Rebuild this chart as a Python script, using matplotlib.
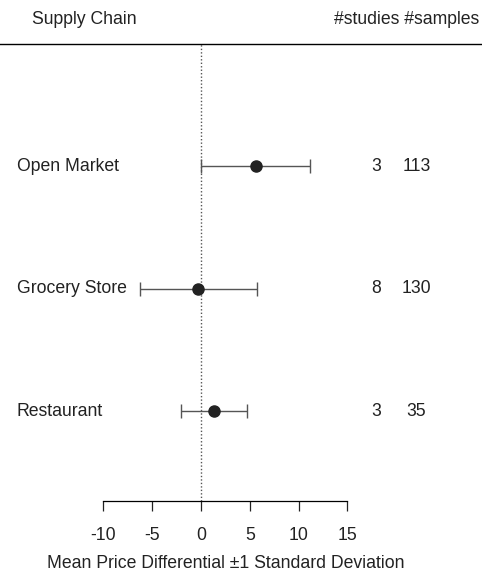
import matplotlib
matplotlib.use("Agg")
import matplotlib.pyplot as plt

# Summary of price differentials by supply chain
chains = ["Open Market", "Grocery Store", "Restaurant"]
means = [5.6, -0.3, 1.35]
sds = [5.6, 6.0, 3.35]
n_studies = [3, 8, 3]
n_samples = [113, 130, 35]
xticks = [-10, -5, 0, 5, 10, 15]

plt.rcParams["font.family"] = ["Liberation Sans", "DejaVu Sans"]
FS = 12.7

W, H = 482, 573
fig = plt.figure(figsize=(W / 100, H / 100), dpi=100)

# Plot axes spans the full width; top spine forms the header rule
x0_pix, px_per_unit = 201.0, 9.76
xmin = (0 - x0_pix) / px_per_unit
xmax = (W - x0_pix) / px_per_unit
ax = fig.add_axes([0, (H - 501) / H, 1, (501 - 44) / H])
ax.set_xlim(xmin, xmax)
ax.set_ylim(0.265, 4.0)

for side in ("left", "right"):
    ax.spines[side].set_visible(False)
ax.spines["top"].set_linewidth(1.0)
ax.spines["bottom"].set_bounds(xticks[0], xticks[-1])
ax.spines["bottom"].set_linewidth(0.9)
ax.set_yticks([])
ax.set_xticks(xticks)
ax.set_xticklabels([str(t) for t in xticks], fontsize=FS)
ax.tick_params(axis="x", direction="out", length=7.5, width=0.9, pad=11, colors="#222222")

ax.axvline(0, color="#555555", linestyle=(0, (1, 1.5)), linewidth=1.0, zorder=1)

ypos = [3, 2, 1]
ax.errorbar(means, ypos, xerr=sds, fmt="o", color="#222222", ecolor="#555555",
            markersize=8, elinewidth=1.0, capsize=5, capthick=1.0, zorder=3)

def fx(p):
    return xmin + p / px_per_unit

for name, y, s, n in zip(chains, ypos, n_studies, n_samples):
    ax.text(fx(17), y, name, ha="left", va="center", fontsize=FS, color="#222222")
    ax.text(fx(376.5), y, str(s), ha="center", va="center", fontsize=FS, color="#222222")
    ax.text(fx(416.5), y, str(n), ha="center", va="center", fontsize=FS, color="#222222")

# Axis title centred under the tick range
x_mid = (xticks[0] + xticks[-1]) / 2
fig.text((x0_pix + x_mid * px_per_unit) / W, 1 - 564 / H,
         "Mean Price Differential \u00b11 Standard Deviation",
         ha="center", va="center", fontsize=FS, color="#222222")

fig.text(32 / W, 1 - 20 / H, "Supply Chain", ha="left", va="center", fontsize=FS, color="#222222")
fig.text(479 / W, 1 - 20 / H, "#studies #samples", ha="right", va="center", fontsize=FS,
         color="#222222")

fig.savefig("out.png", dpi=100)
